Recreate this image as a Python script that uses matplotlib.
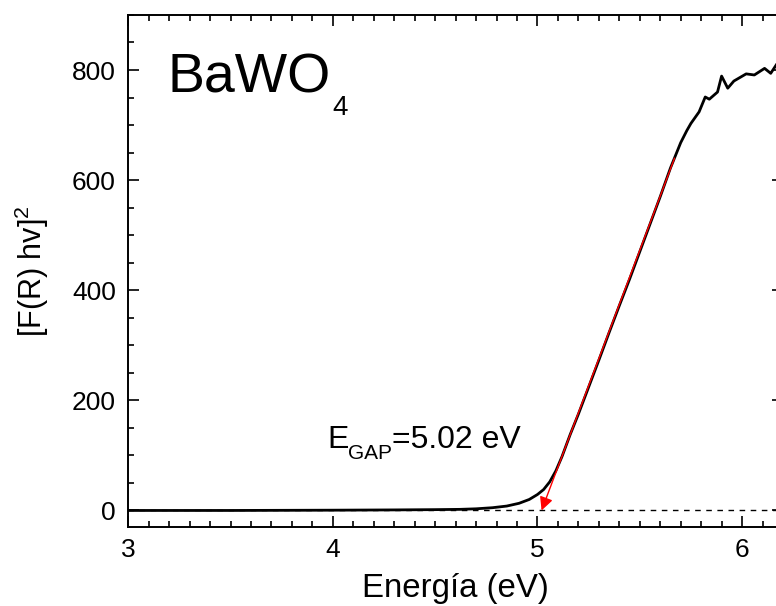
import numpy as np
import matplotlib
matplotlib.use("Agg")
import matplotlib.pyplot as plt
from matplotlib.ticker import MultipleLocator

plt.rcParams['font.family'] = ['Liberation Sans', 'DejaVu Sans']
plt.rcParams['mathtext.fontset'] = 'custom'
plt.rcParams['mathtext.rm'] = 'Liberation Sans'
plt.rcParams['mathtext.it'] = 'Liberation Sans:italic'
plt.rcParams['mathtext.bf'] = 'Liberation Sans:bold'

# energia (eV) y [F(R) hv]^2
energia = [3.0, 3.5, 4.0, 4.3, 4.5, 4.62, 4.70, 4.78, 4.85, 4.91, 4.96, 5.00,
           5.03, 5.06, 5.09, 5.12, 5.16, 5.20, 5.25, 5.30, 5.35, 5.40, 5.45,
           5.50, 5.55, 5.60, 5.65, 5.70, 5.73, 5.75, 5.79, 5.82, 5.84, 5.88,
           5.90, 5.93, 5.96, 6.02, 6.06, 6.11, 6.14, 6.17, 6.20]
fr = [0, 0, 0.5, 1, 1.5, 2, 3, 5, 8, 13, 20, 29,
      38, 52, 72, 98, 138, 175, 224, 273, 323, 372, 420,
      470, 520, 570, 622, 668, 690, 703, 724, 751, 747, 760,
      789, 767, 780, 793, 791, 803, 794, 811, 805]

# ajuste lineal (Tauc)
e_gap = 5.02
fit_top = (5.67, 640)

fig = plt.figure(figsize=(7.76, 6.06), dpi=100)
ax = fig.add_axes([0.1653, 0.1304, 0.8437, 0.8449])

ax.axhline(0, color='black', lw=1, ls=(0, (4, 4)))
ax.plot(energia, fr, color='black', lw=2)
ax.annotate('', xy=(e_gap, 0), xytext=fit_top,
            arrowprops=dict(arrowstyle='-|>', color='red', lw=1,
                            mutation_scale=20, shrinkA=0, shrinkB=0))

ax.set_xlim(3, 6.2)
ax.set_ylim(-30, 900)
ax.xaxis.set_major_locator(MultipleLocator(1))
ax.xaxis.set_minor_locator(MultipleLocator(0.1))
ax.yaxis.set_major_locator(MultipleLocator(200))
ax.yaxis.set_minor_locator(MultipleLocator(50))
ax.tick_params(which='both', direction='in', top=True, right=True,
               width=1.2, labelsize=19)
ax.tick_params(which='major', length=8)
ax.tick_params(which='minor', length=4.5)
ax.tick_params(axis='x', pad=8)
ax.tick_params(axis='y', pad=9)
for s in ax.spines.values():
    s.set_linewidth(1.4)

ax.set_xlabel('Energía (eV)', fontsize=23.8, labelpad=8)
ax.set_ylabel('[F(R) hv]$^{\\mathregular{2}}$', fontsize=22, labelpad=15)

# BaWO4 con subindice
t_ba = ax.text(0.0606, 0.848, 'BaWO', transform=ax.transAxes,
               fontsize=40, va='baseline')
ax.annotate('4', xy=(1, 0), xycoords=t_ba, xytext=(1, -7),
            textcoords='offset points', fontsize=20, va='baseline')

# E_GAP
t_e = ax.text(0.3036, 0.154, 'E', transform=ax.transAxes,
              fontsize=23, va='baseline')
t_gap = ax.annotate('GAP', xy=(1, 0), xycoords=t_e, xytext=(0, -2.6),
                    textcoords='offset points', fontsize=15, va='baseline')
ax.annotate('=5.02 eV', xy=(1, 0), xycoords=(t_gap, t_e), fontsize=23,
            va='bottom')

fig.savefig('out.png', dpi=100)
